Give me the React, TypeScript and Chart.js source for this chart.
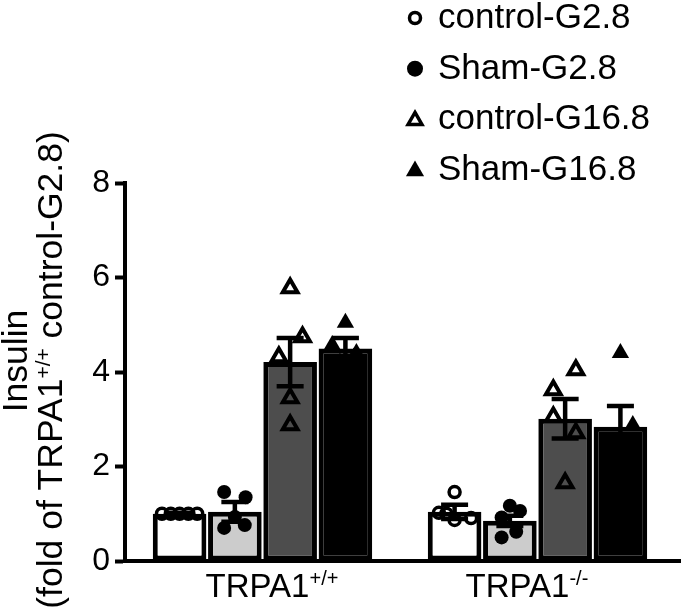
import { useEffect, useRef } from 'react';
import { Chart, registerables } from 'chart.js';

Chart.register(...registerables);

// ---------- data ----------
const groupNames = ['TRPA1', 'TRPA1'];
const groupSups = ['+/+', '-/-'];
const seriesLabels = ['control-G2.8', 'Sham-G2.8', 'control-G16.8', 'Sham-G16.8'];

// bar heights (mean) per group [TRPA1+/+, TRPA1-/-]
const meanControlG28 = [1.0, 1.04];
const meanShamG28 = [1.04, 0.85];
const meanControlG168 = [4.21, 3.01];
const meanShamG168 = [4.5, 2.84];

// SEM per group
const semControlG28 = [0.02, 0.15];
const semShamG28 = [0.21, 0.11];
const semControlG168 = [0.51, 0.42];
const semShamG168 = [0.22, 0.44];

// individual points per group
const ptsControlG28 = [
  [1.0, 1.0, 1.0, 1.0, 1.0],
  [1.46, 1.02, 0.87, 0.91, 1.0],
];
const ptsShamG28 = [
  [1.46, 1.35, 0.7, 0.76, 0.93],
  [1.17, 1.06, 0.92, 0.62, 0.5],
];
const ptsControlG168 = [
  [5.78, 4.74, 4.32, 3.45, 2.88],
  [4.04, 3.62, 3.05, 2.71, 1.65],
];
const ptsShamG168 = [
  [5.04, 4.57, 4.3, 4.2, 4.4],
  [4.4, 2.88, 2.3, 2.4, 2.2],
];

// horizontal jitter of the points inside each bar (x-axis units)
const jitControlG28 = [
  [-0.064, -0.032, 0, 0.032, 0.064],
  [0, -0.057, 0, 0.06, -0.03],
];
const jitShamG28 = [
  [-0.039, 0.039, -0.039, 0.036, 0],
  [0, 0.037, -0.03, 0.023, -0.03],
];
const jitControlG168 = [
  [0, 0.045, -0.041, 0, 0],
  [0.039, -0.043, -0.043, 0.039, 0],
];
const jitShamG168 = [
  [0, -0.048, 0.03, -0.02, 0.04],
  [0, 0.045, -0.04, 0.02, -0.02],
];

const yTicks = [0, 2, 4, 6, 8];

const means = [meanControlG28, meanShamG28, meanControlG168, meanShamG168];
const sems = [semControlG28, semShamG28, semControlG168, semShamG168];
const points = [ptsControlG28, ptsShamG28, ptsControlG168, ptsShamG168];
const jitters = [jitControlG28, jitShamG28, jitControlG168, jitShamG168];

// ---------- styles ----------
const FONT = '"Liberation Sans", Arial, Helvetica, sans-serif';
const barFills = ['#ffffff', '#cccccc', '#4d4d4d', '#000000'];
const pointStyles: ('circle' | 'triangle')[] = ['circle', 'circle', 'triangle', 'triangle'];
const pointFilled = [false, true, false, true];
const pointRadius = [5.5, 7, 8.5, 10];
const CAT_PCT = 0.804;
const BAR_PCT = 0.97;
const labelShift = [-5, -20];

function drawMarker(
  ctx: CanvasRenderingContext2D,
  style: 'circle' | 'triangle',
  filled: boolean,
  x: number,
  y: number,
  r: number,
  lw: number
) {
  ctx.beginPath();
  if (style === 'circle') {
    ctx.arc(x, y, r, 0, Math.PI * 2);
  } else {
    const a = (2 * Math.PI) / 3;
    ctx.moveTo(x, y - r);
    ctx.lineTo(x + r * Math.sin(a), y - r * Math.cos(a));
    ctx.lineTo(x + r * Math.sin(2 * a), y - r * Math.cos(2 * a));
    ctx.closePath();
  }
  if (filled) {
    ctx.fillStyle = '#000';
    ctx.fill();
  } else {
    ctx.lineWidth = lw;
    ctx.strokeStyle = '#000';
    ctx.lineJoin = 'miter';
    ctx.stroke();
  }
}

type Part = { text: string; sup?: boolean };

function partsWidth(ctx: CanvasRenderingContext2D, parts: Part[], size: number, supSize: number) {
  let w = 0;
  for (const p of parts) {
    ctx.font = `${p.sup ? supSize : size}px ${FONT}`;
    w += ctx.measureText(p.text).width;
  }
  return w;
}

function drawParts(
  ctx: CanvasRenderingContext2D,
  parts: Part[],
  x: number,
  y: number,
  size: number,
  supSize: number,
  raise: number
) {
  let cx = x;
  ctx.textAlign = 'left';
  ctx.textBaseline = 'alphabetic';
  ctx.fillStyle = '#000';
  for (const p of parts) {
    ctx.font = `${p.sup ? supSize : size}px ${FONT}`;
    ctx.fillText(p.text, cx, p.sup ? y - raise : y);
    cx += ctx.measureText(p.text).width;
  }
}

const errorBarPlugin = {
  id: 'errorBars',
  afterDatasetDraw(chart: any, args: any) {
    const meta = args.meta;
    if (meta.type !== 'bar') return;
    const s = sems[args.index];
    const m = means[args.index];
    const ctx = chart.ctx as CanvasRenderingContext2D;
    const yScale = chart.scales.y;
    ctx.save();
    ctx.strokeStyle = '#000';
    ctx.lineWidth = 4.5;
    ctx.lineCap = 'butt';
    meta.data.forEach((el: any, i: number) => {
      const x = el.x;
      const yTop = yScale.getPixelForValue(m[i] + s[i]);
      const yBot = yScale.getPixelForValue(m[i] - s[i]);
      const half = 13.5;
      ctx.beginPath();
      ctx.moveTo(x, yTop);
      ctx.lineTo(x, yBot);
      ctx.moveTo(x - half, yTop);
      ctx.lineTo(x + half, yTop);
      ctx.moveTo(x - half, yBot);
      ctx.lineTo(x + half, yBot);
      ctx.stroke();
    });
    ctx.restore();
  },
};

const textPlugin = {
  id: 'texts',
  afterDraw(chart: any) {
    const ctx = chart.ctx as CanvasRenderingContext2D;
    const area = chart.chartArea;
    const xScale = chart.scales.x;
    ctx.save();

    // x category labels
    groupNames.forEach((name, i) => {
      const parts: Part[] = [{ text: name }, { text: groupSups[i], sup: true }];
      const px = xScale.getPixelForValue(i);
      ctx.font = `33px ${FONT}`;
      const mainW = ctx.measureText(name).width;
      drawParts(ctx, parts, px - mainW / 2 + labelShift[i], 597, 33, 20, 12);
    });

    // y axis title (two lines, rotated)
    const cy = (area.top + area.bottom) / 2;
    const line1: Part[] = [{ text: 'Insulin' }];
    const line2: Part[] = [
      { text: '(fold of TRPA1' },
      { text: '+/+', sup: true },
      { text: ' control-G2.8)' },
    ];
    [
      { parts: line1, bx: 27, dy: 11 },
      { parts: line2, bx: 62, dy: 2 },
    ].forEach(({ parts, bx, dy }) => {
      ctx.save();
      ctx.translate(bx, cy - dy);
      ctx.rotate(-Math.PI / 2);
      const w = partsWidth(ctx, parts, 35.5, 21);
      drawParts(ctx, parts, -w / 2, 0, 35.5, 21, 12);
      ctx.restore();
    });

    // legend
    const legendX = 415;
    const textX = 438;
    const baseTop = 28;
    const rowH = 50.7;
    seriesLabels.forEach((label, k) => {
      const by = baseTop + k * rowH;
      const style = pointStyles[k];
      const filled = pointFilled[k];
      const r = style === 'circle' ? (filled ? 8 : 5.5) : filled ? 10.5 : 8;
      const my = style === 'circle' ? by - 10 : by - 9;
      drawMarker(ctx, style, filled, legendX, my, r, 3.5);
      ctx.font = `35px ${FONT}`;
      ctx.fillStyle = '#000';
      ctx.textAlign = 'left';
      ctx.textBaseline = 'alphabetic';
      ctx.fillText(label, textX, by);
    });

    ctx.restore();
  },
};

export default function App() {
  const ref = useRef<HTMLCanvasElement>(null);

  useEffect(() => {
    document.body.style.margin = '0';
    const canvas = ref.current;
    if (!canvas) return;

    const slot = CAT_PCT / seriesLabels.length;

    const barDatasets = seriesLabels.map((label, k) => ({
      type: 'bar' as const,
      label,
      data: means[k].map((v, g) => ({ x: g, y: v })),
      backgroundColor: barFills[k],
      borderColor: '#000',
      borderWidth: 5,
      borderSkipped: false as const,
      categoryPercentage: CAT_PCT,
      barPercentage: BAR_PCT,
      order: 2,
    }));

    const scatterDatasets = seriesLabels.map((label, k) => {
      const data: { x: number; y: number }[] = [];
      points[k].forEach((grp, g) => {
        grp.forEach((v, j) => {
          data.push({ x: g + (k - 1.5) * slot + jitters[k][g][j], y: v });
        });
      });
      return {
        type: 'scatter' as const,
        label,
        data,
        pointStyle: pointStyles[k],
        pointRadius: pointRadius[k],
        pointHoverRadius: pointRadius[k],
        pointBorderWidth: pointFilled[k] ? 0 : pointStyles[k] === 'circle' ? 3.5 : 4,
        pointBorderColor: '#000',
        pointBackgroundColor: pointFilled[k] ? '#000' : 'rgba(0,0,0,0)',
        order: 0,
      };
    });

    const chart = new Chart(canvas, {
      type: 'bar',
      data: { datasets: [...barDatasets, ...scatterDatasets] as any },
      options: {
        responsive: false,
        animation: false,
        devicePixelRatio: 1,
        events: [],
        layout: { padding: { top: 183, right: 3, left: 0, bottom: 0 } },
        plugins: { legend: { display: false }, tooltip: { enabled: false } },
        scales: {
          x: {
            type: 'linear',
            offset: false,
            min: -0.5,
            max: 1.52,
            grid: { display: false, offset: false },
            ticks: { display: false },
            border: { display: true, color: '#000', width: 4 },
            afterBuildTicks: (s: any) => {
              s.ticks = groupNames.map((_, i) => ({ value: i }));
            },
            afterFit: (s: any) => {
              s.height = 55;
            },
          },
          y: {
            type: 'linear',
            min: yTicks[0],
            max: yTicks[yTicks.length - 1],
            ticks: {
              stepSize: yTicks[1] - yTicks[0],
              color: '#000',
              font: { family: FONT, size: 32 },
              padding: 5,
            },
            grid: {
              display: true,
              drawOnChartArea: false,
              drawTicks: true,
              tickLength: 10,
              tickWidth: 4,
              tickColor: '#000',
              color: '#000',
            },
            border: { display: true, color: '#000', width: 4 },
            afterFit: (s: any) => {
              s.width = 125;
            },
          },
        },
      } as any,
      plugins: [errorBarPlugin, textPlugin],
    });

    return () => chart.destroy();
  }, []);

  return <canvas ref={ref} width={693} height={616} style={{ display: 'block' }} />;
}
